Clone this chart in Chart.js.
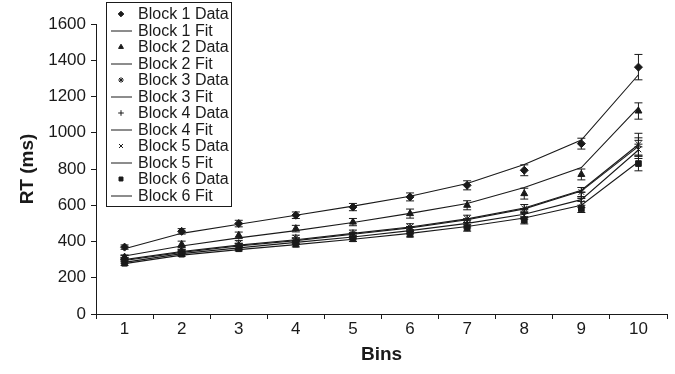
<!DOCTYPE html>
<html>
<head>
<meta charset="utf-8">
<script src="https://cdn.jsdelivr.net/npm/chart.js@4/dist/chart.umd.min.js"></script>
<style>
  html, body { margin: 0; padding: 0; background: #fff; }
  #wrap { width: 675px; height: 374px; position: relative; }
</style>
</head>
<body>
<div id="wrap"><canvas id="c"></canvas></div>
<script>
// bins on the x axis
var bins = ['1', '2', '3', '4', '5', '6', '7', '8', '9', '10']

// mean RT per bin (ms)
var block1Data = [369, 456, 499, 545, 590, 646, 710, 793, 940, 1362]
var block2Data = [314, 384, 434, 471, 507, 554, 600, 664, 770, 1120]
var block3Data = [310, 355, 390, 420, 445, 480, 525, 582, 673, 937]
var block4Data = [300, 345, 375, 405, 435, 465, 505, 555, 646, 922]
var block5Data = [292, 338, 370, 400, 430, 460, 495, 545, 612, 908]
var block6Data = [280, 330, 360, 385, 415, 440, 475, 517, 580, 830]

// error bar half-widths
var block1Err = [12, 15, 18, 18, 20, 22, 25, 30, 30, 70]
var block2Err = [12, 18, 18, 18, 20, 25, 25, 30, 30, 45]
var block3Err = [12, 15, 15, 15, 18, 18, 20, 22, 25, 60]
var block4Err = [12, 12, 15, 15, 15, 18, 20, 22, 25, 50]
var block5Err = [12, 12, 15, 15, 15, 18, 20, 22, 25, 50]
var block6Err = [12, 12, 12, 15, 15, 15, 18, 20, 20, 40]

// fitted curves
var block1Fit = [360, 445, 495, 545, 595, 650, 720, 825, 960, 1320]
var block2Fit = [320, 375, 420, 460, 505, 555, 610, 698, 808, 1140]
var block3Fit = [300, 345, 380, 410, 445, 480, 525, 585, 683, 935]
var block4Fit = [295, 340, 375, 405, 440, 475, 520, 580, 678, 925]
var block5Fit = [285, 333, 365, 395, 425, 460, 500, 550, 631, 905]
var block6Fit = [278, 325, 355, 383, 412, 445, 483, 530, 600, 840]

var ink = '#1a1a1a'
var font = "'Liberation Sans', Arial, sans-serif"

function dataSet(label, data, err, style, r) {
    return {
        label: label, data: data, err: err,
        showLine: false,
        pointStyle: style, pointRadius: r, pointHoverRadius: r,
        pointBackgroundColor: ink, pointBorderColor: ink, pointBorderWidth: 1,
        borderColor: ink, backgroundColor: ink
    }
}
function fitSet(label, data) {
    return {
        label: label, data: data, fit: true,
        pointRadius: 0, borderColor: ink, borderWidth: 1.1, tension: 0, fill: false
    }
}

// error bars drawn through the y scale
var errorBars = {
    id: 'errorBars',
    afterDatasetsDraw: function (chart) {
        var ctx = chart.ctx, y = chart.scales.y
        chart.data.datasets.forEach(function (ds, i) {
            if (!ds.err) return
            var meta = chart.getDatasetMeta(i)
            ctx.save()
            ctx.strokeStyle = ink
            ctx.lineWidth = 1
            meta.data.forEach(function (pt, j) {
                var top = y.getPixelForValue(ds.data[j] + ds.err[j])
                var bot = y.getPixelForValue(ds.data[j] - ds.err[j])
                ctx.beginPath()
                ctx.moveTo(pt.x, top); ctx.lineTo(pt.x, bot)
                ctx.moveTo(pt.x - 4, top); ctx.lineTo(pt.x + 4, top)
                ctx.moveTo(pt.x - 4, bot); ctx.lineTo(pt.x + 4, bot)
                ctx.stroke()
            })
            ctx.restore()
        })
    }
}

// boxed legend in the top-left corner
var boxLegend = {
    id: 'boxLegend',
    afterDraw: function (chart) {
        var ctx = chart.ctx
        var sets = chart.data.datasets
        ctx.save()
        ctx.fillStyle = '#fff'
        ctx.strokeStyle = ink
        ctx.lineWidth = 1
        ctx.fillRect(106.5, 2.5, 125, 204)
        ctx.strokeRect(106.5, 2.5, 125, 204)
        ctx.font = '16px ' + font
        ctx.textBaseline = 'middle'
        sets.forEach(function (ds, i) {
            var cy = 14 + i * 16.5
            if (ds.fit) {
                ctx.beginPath()
                ctx.moveTo(111, cy + 0.5); ctx.lineTo(132, cy + 0.5)
                ctx.stroke()
            } else {
                ctx.fillStyle = ink
                Chart.helpers.drawPoint(ctx, { pointStyle: ds.pointStyle, radius: ds.pointRadius * 0.7, rotation: 0, borderWidth: 1 }, 121, cy)
            }
            ctx.fillStyle = ink
            ctx.fillText(ds.label, 138, cy + 1)
        })
        ctx.restore()
    }
}

new Chart(document.getElementById('c'), {
    type: 'line',
    data: {
        labels: bins,
        datasets: [
            dataSet('Block 1 Data', block1Data, block1Err, 'rectRot', 4),
            fitSet('Block 1 Fit', block1Fit),
            dataSet('Block 2 Data', block2Data, block2Err, 'triangle', 4),
            fitSet('Block 2 Fit', block2Fit),
            dataSet('Block 3 Data', block3Data, block3Err, 'star', 4),
            fitSet('Block 3 Fit', block3Fit),
            dataSet('Block 4 Data', block4Data, block4Err, 'cross', 4),
            fitSet('Block 4 Fit', block4Fit),
            dataSet('Block 5 Data', block5Data, block5Err, 'crossRot', 4),
            fitSet('Block 5 Fit', block5Fit),
            dataSet('Block 6 Data', block6Data, block6Err, 'rect', 4),
            fitSet('Block 6 Fit', block6Fit)
        ]
    },
    options: {
        responsive: true,
        maintainAspectRatio: false,
        animation: false,
        layout: { padding: { top: 24, right: 8, left: 0, bottom: 0 } },
        plugins: { legend: { display: false }, tooltip: { enabled: false } },
        scales: {
            x: {
                offset: true,
                grid: { offset: true, drawOnChartArea: false, drawTicks: true, tickLength: 5, color: ink },
                border: { color: ink, width: 1 },
                ticks: { color: ink, font: { family: font, size: 17 }, padding: 0 },
                title: { display: true, text: 'Bins', color: ink, font: { family: font, size: 19, weight: 'bold' }, padding: { top: 0, bottom: 8 } },
                afterFit: function (s) { s.height = 60 }
            },
            y: {
                min: 0, max: 1600,
                ticks: {
                    stepSize: 200, color: ink, font: { family: font, size: 17 }, padding: 5,
                    callback: function (v) { return String(v) }
                },
                grid: { drawOnChartArea: false, drawTicks: true, tickLength: 5, color: ink },
                border: { color: ink, width: 1 },
                title: { display: true, text: 'RT (ms)', color: ink, font: { family: font, size: 19, weight: 'bold' }, padding: { top: 16, bottom: 0 } },
                afterFit: function (s) { s.width = 96 }
            }
        }
    },
    plugins: [errorBars, boxLegend]
})
</script>
</body>
</html>
